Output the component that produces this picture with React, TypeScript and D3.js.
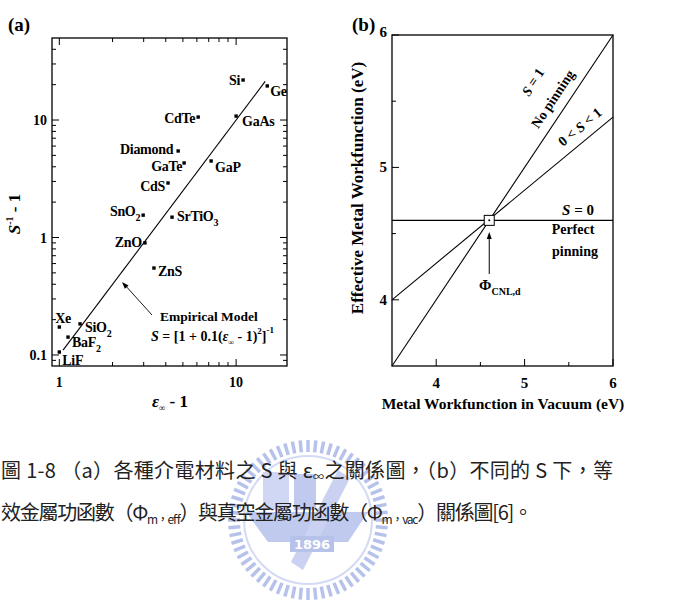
import React from 'react';
import * as d3 from 'd3';

// constants
const W = 678;
const H = 604;
const serif = '"Liberation Serif", "Times New Roman", serif';
const cjk = '"Noto Sans CJK TC", "Noto Sans CJK SC", sans-serif';

// panel (a): S^-1 - 1 versus eps_inf - 1 for various dielectrics
const materials = ['Si', 'Ge', 'CdTe', 'GaAs', 'Diamond', 'GaTe', 'GaP', 'CdS', 'SnO2', 'SrTiO3', 'ZnO', 'ZnS', 'Xe', 'SiO2', 'BaF2', 'LiF'];
const epsMinus1 = [10.95, 15.0, 6.1, 10.0, 4.7, 5.08, 7.22, 4.12, 2.98, 4.34, 3.05, 3.43, 1.0, 1.31, 1.12, 1.0];
const invSMinus1 = [21.9, 19.5, 10.6, 10.8, 5.45, 4.31, 4.48, 2.91, 1.55, 1.49, 0.9, 0.55, 0.173, 0.184, 0.142, 0.106];
const modelEps = [1.05, 14.6];
const modelInvS = [0.11, 21.3];
const aXTicks = [1, 10];
const aYTicks = [0.1, 1, 10];

// panel (b): effective vs vacuum metal workfunction
const phiVac = [3.5, 6];
const phiEffS1 = [3.5, 6];
const phiEffSMid = [4.0, 5.38];
const phiEffS0 = [4.6, 4.6];
const phiCNL = [4.6, 4.6];
const bTicks = [4, 5, 6];
const bMinorTicks = [4.5, 5.5];

// label placement (dx, dy, anchor) relative to each marker
const labelPos: Record<string, [number, number, string]> = {
  Si: [-3, 5, 'end'], Ge: [3, 10, 'start'], CdTe: [-3, 6, 'end'], GaAs: [6, 10, 'start'],
  Diamond: [-5, 3, 'end'], GaTe: [-2, 8, 'end'], GaP: [4, 11, 'start'], CdS: [-3, 8, 'end'],
  SnO2: [-3, 1, 'end'], SrTiO3: [5, 4, 'start'], ZnO: [-3, 4, 'end'], ZnS: [4, 8, 'start'],
  Xe: [-4, -4, 'start'], SiO2: [5, 8, 'start'], BaF2: [4, 10, 'start'], LiF: [3, 13, 'start'],
};

const frameA = { x0: 52, x1: 287, y0: 38, y1: 366 };
const frameB = { x0: 392, x1: 613, y0: 35, y1: 366 };

const xA = d3.scaleLog().domain([0.909, 19.4]).range([frameA.x0, frameA.x1]);
const yA = d3.scaleLog().domain([0.0806, 49.9]).range([frameA.y1, frameA.y0]);
const xB = d3.scaleLinear().domain([3.5, 6]).range([frameB.x0, frameB.x1]);
const yB = d3.scaleLinear().domain([3.5, 6]).range([frameB.y1, frameB.y0]);

const logTicks = (domain: number[]) => {
  const out: { v: number; major: boolean }[] = [];
  for (let k = -2; k <= 2; k++) {
    for (let m = 1; m <= 9; m++) {
      const v = m * Math.pow(10, k);
      if (v >= domain[0] && v <= domain[1]) out.push({ v, major: m === 1 });
    }
  }
  return out;
};

const Label = ({ name }: { name: string }) => {
  const m = name.match(/^(.*?)(\d)$/);
  if (!m) return <>{name}</>;
  return (
    <>
      {m[1]}
      <tspan fontSize={10} dy={5}>{m[2]}</tspan>
    </>
  );
};

const arrowHead = (x1: number, y1: number, x2: number, y2: number, len = 7, half = 2.5) => {
  const a = Math.atan2(y2 - y1, x2 - x1);
  const bx = x2 - len * Math.cos(a);
  const by = y2 - len * Math.sin(a);
  const px = -Math.sin(a) * half;
  const py = Math.cos(a) * half;
  return `M${x2},${y2}L${bx + px},${by + py}L${bx - px},${by - py}Z`;
};

const PanelA = () => {
  const xt = logTicks(xA.domain() as number[]);
  const yt = logTicks(yA.domain() as number[]);
  const model = d3.line<number>()
    .x((d, i) => xA(modelEps[i]))
    .y(d => yA(d));
  return (
    <g fontFamily={serif} fontWeight="bold">
      <text x={8} y={31} fontSize={19}>(a)</text>
      <rect x={frameA.x0} y={frameA.y0} width={frameA.x1 - frameA.x0} height={frameA.y1 - frameA.y0}
        fill="none" stroke="#000" strokeWidth={1.3} />
      {xt.map(t => {
        const l = t.major ? 7 : 4;
        return (
          <g key={'x' + t.v} stroke="#000" strokeWidth={1}>
            <line x1={xA(t.v)} x2={xA(t.v)} y1={frameA.y1} y2={frameA.y1 - l} />
            <line x1={xA(t.v)} x2={xA(t.v)} y1={frameA.y0} y2={frameA.y0 + l} />
          </g>
        );
      })}
      {yt.map(t => {
        const l = t.major ? 7 : 4;
        return (
          <g key={'y' + t.v} stroke="#000" strokeWidth={1}>
            <line x1={frameA.x0} x2={frameA.x0 + l} y1={yA(t.v)} y2={yA(t.v)} />
            <line x1={frameA.x1} x2={frameA.x1 - l} y1={yA(t.v)} y2={yA(t.v)} />
          </g>
        );
      })}
      {aXTicks.map(t => (
        <text key={'xl' + t} x={xA(t)} y={387} fontSize={14} textAnchor="middle">{t}</text>
      ))}
      {aYTicks.map(t => (
        <text key={'yl' + t} x={47} y={yA(t) + 5} fontSize={14} textAnchor="end">{t}</text>
      ))}
      <text x={170} y={407} fontSize={17} textAnchor="middle">
        <tspan fontStyle="italic">ε</tspan><tspan fontSize={9} dy={4}>∞</tspan><tspan dy={-4}> - 1</tspan>
      </text>
      <text transform="translate(20,214) rotate(-90)" fontSize={17} textAnchor="middle">
        <tspan fontStyle="italic">S</tspan><tspan fontSize={10} dy={-7}>-1</tspan><tspan dy={7}> - 1</tspan>
      </text>
      <path d={model(modelInvS) || ''} fill="none" stroke="#000" strokeWidth={1.1} />
      {materials.map((name, i) => {
        const cx = xA(epsMinus1[i]);
        const cy = yA(invSMinus1[i]);
        const [dx, dy, anchor] = labelPos[name];
        return (
          <g key={name}>
            <rect x={cx - 1.7} y={cy - 1.7} width={3.4} height={3.4} fill="#000" />
            <text x={cx + dx} y={cy + dy} fontSize={14} textAnchor={anchor} letterSpacing={-0.3}>
              <Label name={name} />
            </text>
          </g>
        );
      })}
      <line x1={152} y1={315} x2={124} y2={284} stroke="#000" strokeWidth={0.9} />
      <path d={arrowHead(152, 315, 122, 282)} fill="#000" />
      <text x={160} y={321} fontSize={13.5}>Empirical Model</text>
      <text x={151} y={341} fontSize={14}>
        <tspan fontStyle="italic">S</tspan> = [1 + 0.1(<tspan fontStyle="italic">ε</tspan>
        <tspan fontSize={8} dy={4}>∞</tspan><tspan dy={-4}> - 1)</tspan>
        <tspan fontSize={9} dy={-7}>2</tspan><tspan dy={7}>]</tspan>
        <tspan fontSize={9} dy={-8}>-1</tspan>
      </text>
    </g>
  );
};

const PanelB = () => {
  const line = d3.line<number>()
    .x((d, i) => xB(phiVac[i]))
    .y(d => yB(d));
  const cx = xB(phiCNL[0]);
  const cy = yB(phiCNL[1]);
  return (
    <g fontFamily={serif} fontWeight="bold">
      <text x={352} y={31} fontSize={19}>(b)</text>
      <rect x={frameB.x0} y={frameB.y0} width={frameB.x1 - frameB.x0} height={frameB.y1 - frameB.y0}
        fill="none" stroke="#000" strokeWidth={1.3} />
      {[...bTicks, ...bMinorTicks].map(t => {
        const l = bTicks.includes(t) ? 7 : 4;
        return (
          <g key={'t' + t} stroke="#000" strokeWidth={1}>
            <line x1={xB(t)} x2={xB(t)} y1={frameB.y1} y2={frameB.y1 - l} />
            <line x1={frameB.x0} x2={frameB.x0 + l} y1={yB(t)} y2={yB(t)} />
          </g>
        );
      })}
      {bTicks.map(t => (
        <text key={'xl' + t} x={xB(t)} y={388} fontSize={15} textAnchor="middle">{t}</text>
      ))}
      {bTicks.map(t => (
        <text key={'yl' + t} x={387} y={yB(t) + (t === 6 ? 2 : 5)} fontSize={15} textAnchor="end">{t}</text>
      ))}
      <text x={503} y={409} fontSize={15.5} textAnchor="middle">Metal Workfunction in Vacuum (eV)</text>
      <text transform="translate(363,188) rotate(-90)" fontSize={17} textAnchor="middle">
        Effective Metal Workfunction (eV)
      </text>
      <path d={line(phiEffS1) || ''} fill="none" stroke="#000" strokeWidth={1.1} />
      <path d={line(phiEffSMid) || ''} fill="none" stroke="#000" strokeWidth={1.1} />
      <path d={line(phiEffS0) || ''} fill="none" stroke="#000" strokeWidth={1.1} />
      <rect x={cx - 5} y={cy - 5} width={10} height={10} fill="#fff" stroke="#000" strokeWidth={1} />
      <circle cx={cx} cy={cy} r={1} fill="#000" />
      <line x1={cx} y1={274} x2={cx} y2={238} stroke="#000" strokeWidth={1} />
      <path d={arrowHead(cx, 274, cx, 232)} fill="#000" />
      <text x={479} y={290} fontSize={15}>Φ<tspan fontSize={10} dy={5}>CNL,d</tspan></text>
      <text transform="translate(533,82) rotate(-56.3)" fontSize={14} textAnchor="middle" dominantBaseline="central">
        <tspan fontStyle="italic">S</tspan> = 1
      </text>
      <text transform="translate(553,99) rotate(-56.3)" fontSize={14} textAnchor="middle" dominantBaseline="central">
        No pinning
      </text>
      <text transform="translate(580,127) rotate(-39.8)" fontSize={14} textAnchor="middle" dominantBaseline="central">
        0 &lt; <tspan fontStyle="italic">S</tspan> &lt; 1
      </text>
      <text x={578} y={215} fontSize={15} textAnchor="middle"><tspan fontStyle="italic">S</tspan> = 0</text>
      <text x={573} y={234} fontSize={14} textAnchor="middle">Perfect</text>
      <text x={575} y={256} fontSize={14} textAnchor="middle">pinning</text>
    </g>
  );
};

const Watermark = () => {
  const cx = 308;
  const cy = 520;
  const rays = d3.range(64);
  return (
    <g opacity={0.62}>
      {rays.map(i => {
        const a = (i / rays.length) * Math.PI * 2;
        return (
          <line key={i}
            x1={cx + 68 * Math.cos(a)} y1={cy + 68 * Math.sin(a)}
            x2={cx + 80 * Math.cos(a)} y2={cy + 80 * Math.sin(a)}
            stroke="#8c9ee0" strokeWidth={3.5} />
        );
      })}
      <circle cx={cx} cy={cy} r={64} fill="none" stroke="#b8c4ee" strokeWidth={2} />
      <path d={`M${cx - 62},${cy - 8}L${cx + 60},${cy - 8}L${cx + 40},${cy + 22}L${cx - 40},${cy + 22}Z`} fill="#9aaae6" />
      <rect x={cx - 45} y={cy - 48} width={26} height={38} fill="#b4c0ee" />
      <rect x={cx - 14} y={cy - 46} width={22} height={36} fill="#9aaae6" />
      <path d={`M${cx + 30},${cy - 50}L${cx + 42},${cy - 42}L${cx - 5},${cy + 50}L${cx - 17},${cy + 42}Z`} fill="#aab6ea" />
      <rect x={cx - 18} y={cy + 16} width={44} height={16} fill="#8c9ee0" />
      <text x={cx + 4} y={cy + 29} fontSize={13} fontWeight="bold" fill="#fff" textAnchor="middle"
        fontFamily='"DejaVu Sans", sans-serif'>1896</text>
    </g>
  );
};

const Caption = () => (
  <g fontFamily={cjk} fontSize={20} fill="#222">
    <text x={1} y={478} textLength={612} lengthAdjust="spacing">
      圖 1-8 （a）各種介電材料之 S 與 ε<tspan fontSize={11} dy={3}>∞</tspan><tspan dy={-3}>之關係圖，（b）不同的 S 下，等</tspan>
    </text>
    <text x={1} y={520} textLength={532} lengthAdjust="spacing">
      效金屬功函數（Φ<tspan fontSize={12} dy={4}>m，eff</tspan><tspan dy={-4}>）與真空金屬功函數（Φ</tspan><tspan fontSize={12} dy={4}>m，vac</tspan><tspan dy={-4}>）關係圖[6]。</tspan>
    </text>
  </g>
);

const App = () => (
  <svg width={W} height={H} style={{ position: 'absolute', left: 0, top: 0, background: '#fff' }}>
    <rect width={W} height={H} fill="#fff" />
    <PanelA />
    <PanelB />
    <Watermark />
    <Caption />
  </svg>
);

export default App;
